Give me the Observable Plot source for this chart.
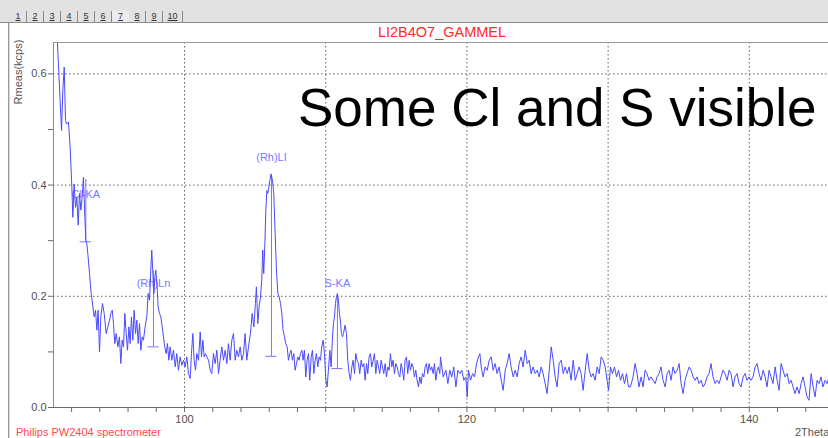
<!DOCTYPE html>
<html>
<head>
<meta charset="utf-8">
<script src="https://cdn.jsdelivr.net/npm/d3@7"></script>
<script src="https://cdn.jsdelivr.net/npm/@observablehq/plot@0.6"></script>
<style>
  html, body { margin: 0; padding: 0; background: #fff; }
  #wrap { position: relative; width: 828px; height: 438px; overflow: hidden; background: #fff;
          font-family: "Liberation Sans", Arial, sans-serif; }
  #chart { position: absolute; left: 0; top: 0; }
  #tabbar { position: absolute; left: 0; top: 0; width: 828px; height: 22px; background: #e2e2e2;
            border-bottom: 1px solid #8c8c8c; }
  #tabs { position: absolute; left: 10px; top: 11px; height: 11px; display: flex; }
  .tab { font-size: 9px; color: #333; text-decoration: underline; width: 17px; text-align: center;
         line-height: 11px; border-right: 1px solid #888; box-sizing: border-box; }
  .tab.active { border-right: none; background: #ececec; }
  #title { position: absolute; left: 342px; top: 25px; width: 200px; text-align: center;
           font-size: 14.5px; line-height: 14.5px; color: #ff2a2a; white-space: nowrap; }
  #ylabel { position: absolute; left: 18px; top: 72px; transform: translate(-50%, -50%) rotate(-90deg);
            font-size: 11px; color: #555; white-space: nowrap; }
  #foot { position: absolute; left: 16px; top: 427px; font-size: 11px; line-height: 11px; color: #ff4a4a; white-space: nowrap; }
  #xlabel { position: absolute; left: 795px; top: 427px; font-size: 11px; line-height: 11px; color: #555; white-space: nowrap; }
  #big { position: absolute; left: 298px; top: 81px; font-size: 53px; line-height: 53px; color: #000; white-space: nowrap; }
  #border { position: absolute; left: 8px; top: 23px; width: 1px; height: 415px; background: #9a9a9a;
            box-shadow: 1px 0 0 #d8d8d8; }
</style>
</head>
<body>
<div id="wrap">
  <div id="chart"></div>
  <div id="tabbar"><div id="tabs"></div></div>
  <div id="border"></div>
  <div id="title">LI2B4O7_GAMMEL</div>
  <div id="ylabel">Rmeas(kcps)</div>
  <div id="foot">Philips PW2404 spectrometer</div>
  <div id="xlabel">2Theta</div>
  <div id="big">Some Cl and S visible</div>
</div>
<script>
// ---- tick / label arrays ----
const tabLabels = ["1","2","3","4","5","6","7","8","9","10"];
const activeTab = "7";
const xDomain = [90.72, 145.61];
const yDomain = [0, 0.6564];
const xTicks = [92,94,96,98,100,102,104,106,108,110,112,114,116,118,120,122,124,126,128,130,132,134,136,138,140,142,144];
const xLabelled = [100, 120, 140];
const xGrid = [100, 110, 120, 130, 140];
const yTicks = [0, 0.1, 0.2, 0.3, 0.4, 0.5, 0.6];
const yLabelled = [0, 0.2, 0.4, 0.6];
const yGrid = [0.2, 0.4, 0.6];

// ---- peak markers ----
const peakLabels = ["Cl-KA", "(Rh)Ln", "(Rh)LI", "S-KA"];
const peakTheta  = [93.01, 97.80, 106.16, 110.83];
const peakTop    = [0.410, 0.245, 0.417, 0.202];
const peakBase   = [0.298, 0.109, 0.092, 0.070];
const peakLabelY = [0.383, 0.223, 0.450, 0.223];

// ---- spectrum: [2theta, Rmeas (kcps)] ----
const spectrumA = [
[91.00,0.655],[91.19,0.552],[91.29,0.498],[91.38,0.570],[91.48,0.612],[91.57,0.516],[91.66,0.510],[91.78,0.513],
[91.90,0.468],[92.02,0.396],[92.09,0.342],[92.18,0.402],[92.28,0.360],[92.37,0.378],[92.47,0.328],[92.56,0.385],
[92.66,0.355],[92.75,0.378],[92.84,0.414],[92.94,0.342],[93.01,0.300],[93.08,0.295],[93.15,0.277],[93.27,0.241],
[93.39,0.205],[93.51,0.181],[93.60,0.163],[93.70,0.175],[93.79,0.139],[93.88,0.175],[93.98,0.100],[94.07,0.163],
[94.19,0.187],[94.31,0.169],[94.45,0.133],[94.57,0.145],[94.69,0.157],[94.78,0.169],[94.88,0.175],[94.97,0.151],
[95.06,0.115],[95.16,0.133],[95.28,0.109],[95.39,0.127],[95.49,0.079],[95.58,0.121],[95.68,0.109],[95.77,0.169],
[95.87,0.133],[95.96,0.103],[96.06,0.145],[96.15,0.115],[96.24,0.163],[96.34,0.121],[96.43,0.175],[96.53,0.133],
[96.62,0.157],[96.72,0.115],[96.81,0.151],[96.91,0.103],[97.00,0.127],[97.09,0.121],[97.21,0.145],[97.33,0.163],
[97.42,0.205],[97.52,0.193],[97.61,0.247],[97.68,0.283],[97.76,0.241],[97.83,0.205],[97.90,0.235],[97.97,0.247],
[98.06,0.217],[98.13,0.181],[98.23,0.169],[98.32,0.163],[98.42,0.145],[98.51,0.127],[98.60,0.109],[98.70,0.097],
[98.79,0.115],[98.89,0.085],[98.98,0.109],[99.10,0.085],[99.22,0.103],[99.34,0.073],[99.45,0.097],[99.57,0.067],
[99.69,0.091],[99.81,0.076],[99.93,0.085],[100.05,0.073],[100.16,0.091],[100.28,0.061],[100.40,0.052],[100.49,0.097],
[100.59,0.133],[100.68,0.085],[100.78,0.067],[100.87,0.097],[100.99,0.085],[101.11,0.136],[101.20,0.091],[101.30,0.121],
[101.39,0.091],[101.48,0.097],[101.58,0.091],[101.70,0.085],[101.82,0.067],[101.93,0.061],[102.05,0.097],[102.17,0.079],
[102.29,0.103],[102.41,0.061],[102.52,0.085],[102.64,0.109],[102.76,0.085],[102.88,0.103],[103.00,0.079],[103.11,0.115],
[103.23,0.085],[103.35,0.121],[103.47,0.133],[103.59,0.085],[103.70,0.103],[103.82,0.091],[103.94,0.109],[104.06,0.085],
[104.18,0.097],[104.29,0.133],[104.41,0.085],[104.53,0.109]
];
const spectrumB = [
[104.67,0.133],[104.79,0.169],[104.91,0.145],[105.02,0.187],[105.09,0.217],[105.19,0.151],[105.28,0.181],[105.38,0.199],
[105.47,0.229],[105.54,0.283],[105.61,0.241],[105.69,0.295],[105.76,0.355],[105.83,0.390],[105.90,0.385],[105.97,0.396],
[106.04,0.408],[106.13,0.420],[106.23,0.408],[106.32,0.385],[106.42,0.313],[106.51,0.247],[106.61,0.205],[106.70,0.199],
[106.80,0.187],[106.89,0.169],[106.98,0.139],[107.08,0.127],[107.17,0.115],[107.27,0.109],[107.36,0.085],[107.46,0.097],
[107.55,0.103],[107.64,0.085],[107.74,0.097],[107.83,0.067],[107.93,0.079],[108.02,0.091],[108.12,0.085],[108.21,0.097],
[108.31,0.103],[108.40,0.085],[108.49,0.103],[108.59,0.055],[108.68,0.085],[108.78,0.097],[108.87,0.049],[108.97,0.091],
[109.06,0.103],[109.16,0.061],[109.25,0.085],[109.34,0.097],[109.44,0.073],[109.53,0.091],[109.63,0.085],[109.72,0.109],
[109.82,0.121],[109.91,0.097],[110.01,0.049],[110.10,0.037],[110.19,0.067],[110.29,0.103],[110.38,0.073],[110.48,0.127],
[110.55,0.151],[110.62,0.163],[110.69,0.187],[110.76,0.199],[110.83,0.205],[110.90,0.193],[110.97,0.169],[111.04,0.157],
[111.11,0.133],[111.19,0.127],[111.26,0.133],[111.37,0.148],[111.47,0.133],[111.56,0.085],[111.66,0.061],[111.75,0.049],
[111.85,0.073],[111.94,0.085],[112.04,0.061],[112.13,0.097],[112.22,0.085],[112.32,0.079],[112.41,0.061],[112.51,0.085],
[112.60,0.073],[112.70,0.079],[112.79,0.049],[112.89,0.079],[112.98,0.061],[113.07,0.091],[113.17,0.097],[113.26,0.073],
[113.36,0.085],[113.45,0.097],[113.55,0.061],[113.64,0.085],[113.74,0.073],[113.83,0.061],[113.92,0.085],[114.02,0.073],
[114.11,0.061],[114.21,0.079],[114.30,0.055],[114.40,0.073],[114.49,0.067],[114.58,0.097],[114.68,0.073],[114.77,0.085],
[114.87,0.061],[114.96,0.079],[115.06,0.073],[115.15,0.061],[115.25,0.055],[115.34,0.079],[115.43,0.067],[115.53,0.049],
[115.62,0.085],[115.72,0.091],[115.81,0.061],[115.91,0.085],[116.00,0.067],[116.10,0.079],[116.19,0.073],[116.28,0.055],
[116.38,0.067],[116.47,0.049],[116.57,0.037],[116.66,0.055],[116.76,0.043],[116.85,0.061],[116.95,0.055],[117.04,0.073],
[117.13,0.079],[117.23,0.061],[117.32,0.079],[117.42,0.067],[117.51,0.073],[117.61,0.061],[117.70,0.079],[117.80,0.049],
[117.89,0.067],[117.98,0.073],[118.08,0.061]
];
const spectrumC = [
[118.13,0.091],[118.32,0.055],[118.51,0.067],[118.65,0.043],[118.79,0.067],[118.93,0.055],[119.07,0.073],[119.22,0.037],
[119.36,0.067],[119.50,0.061],[119.64,0.067],[119.78,0.049],[119.92,0.055],[120.02,0.019],[120.11,0.067],[120.26,0.049],
[120.40,0.061],[120.54,0.055],[120.68,0.079],[120.82,0.091],[120.92,0.097],[121.01,0.073],[121.15,0.055],[121.29,0.073],
[121.44,0.067],[121.58,0.085],[121.72,0.091],[121.86,0.067],[122.00,0.079],[122.14,0.061],[122.28,0.073],[122.43,0.049],
[122.57,0.031],[122.71,0.067],[122.85,0.079],[122.99,0.097],[123.13,0.073],[123.28,0.055],[123.42,0.067],[123.56,0.055],
[123.70,0.079],[123.84,0.091],[123.98,0.073],[124.13,0.103],[124.27,0.079],[124.41,0.085],[124.55,0.061],[124.69,0.073],
[124.83,0.061],[124.98,0.067],[125.12,0.055],[125.26,0.073],[125.40,0.061],[125.54,0.043],[125.68,0.025],[125.83,0.067],
[125.97,0.109],[126.11,0.085],[126.25,0.055],[126.39,0.037],[126.53,0.079],[126.68,0.085],[126.82,0.061],[126.96,0.073],
[127.10,0.061],[127.24,0.073],[127.38,0.049],[127.53,0.085],[127.67,0.049],[127.81,0.061],[127.95,0.073],[128.09,0.061],
[128.23,0.031],[128.38,0.067],[128.52,0.097],[128.66,0.067],[128.80,0.055],[128.94,0.061],[129.08,0.049],[129.23,0.073],
[129.37,0.061],[129.51,0.091],[129.65,0.085],[129.79,0.073],[129.93,0.049],[130.03,0.031],[130.17,0.073],[130.31,0.061],
[130.45,0.073],[130.60,0.055],[130.74,0.067],[130.88,0.049],[131.02,0.061],[131.16,0.043],[131.30,0.061],[131.45,0.037]
];
const spectrumD = [
[131.58,0.037],[131.77,0.055],[131.91,0.079],[132.05,0.061],[132.19,0.037],[132.34,0.055],[132.48,0.037],[132.62,0.067],
[132.76,0.061],[132.90,0.049],[133.04,0.055],[133.19,0.049],[133.33,0.043],[133.47,0.055],[133.61,0.061],[133.75,0.073],
[133.89,0.049],[134.04,0.037],[134.18,0.061],[134.32,0.067],[134.46,0.049],[134.60,0.073],[134.74,0.061],[134.89,0.067],
[135.03,0.079],[135.17,0.043],[135.31,0.025],[135.45,0.049],[135.59,0.061],[135.74,0.073],[135.88,0.067],[136.02,0.055],
[136.16,0.049],[136.30,0.055],[136.44,0.043],[136.59,0.049],[136.73,0.037],[136.87,0.043],[137.01,0.055],[137.15,0.061],
[137.29,0.079],[137.43,0.055],[137.58,0.043],[137.72,0.049],[137.86,0.043],[138.00,0.055],[138.14,0.067],[138.28,0.061],
[138.43,0.049],[138.57,0.067],[138.71,0.061],[138.85,0.037],[138.99,0.055],[139.13,0.061],[139.28,0.043],[139.42,0.037],
[139.56,0.055],[139.70,0.061],[139.84,0.049],[139.98,0.055],[140.13,0.049],[140.27,0.055],[140.41,0.073],[140.55,0.079],
[140.69,0.061],[140.83,0.049],[140.98,0.067],[141.12,0.055],[141.26,0.037],[141.40,0.067],[141.54,0.055],[141.68,0.043],
[141.83,0.073],[141.97,0.049],[142.11,0.031],[142.25,0.079],[142.39,0.067],[142.53,0.055],[142.68,0.061],[142.82,0.043],
[142.96,0.049],[143.10,0.037],[143.24,0.025],[143.38,0.037],[143.53,0.025],[143.67,0.043],[143.81,0.055],[143.95,0.037],
[144.09,0.019],[144.23,0.013],[144.38,0.061],[144.52,0.037],[144.66,0.019],[144.80,0.049],[144.94,0.043],[145.08,0.055],
[145.22,0.037],[145.37,0.049],[145.51,0.043],[145.65,0.055]
];

// ---- build tables ----
const spectrum = [...spectrumA, ...spectrumB, ...spectrumC, ...spectrumD].map(([t, r]) => ({theta: t, rmeas: r}));
const peaks = peakLabels.map((label, i) => ({
  label, theta: peakTheta[i], top: peakTop[i], base: peakBase[i], labelY: peakLabelY[i]
}));

// tabs
const tabsEl = document.getElementById("tabs");
tabLabels.forEach(t => {
  const s = document.createElement("span");
  s.className = "tab" + (t === activeTab ? " active" : "");
  if (t === "10") s.style.width = "20px";
  s.textContent = t;
  tabsEl.appendChild(s);
});

const gridStyle = {stroke: "#606060", strokeOpacity: 1, strokeDasharray: "1.5,2.5", strokeWidth: 1};
const axisColor = "#6a6a6a";
const peakColor = "#7878ff";

const chart = Plot.plot({
  width: 828,
  height: 438,
  marginLeft: 53,
  marginRight: 0,
  marginTop: 42,
  marginBottom: 31,
  x: {domain: xDomain},
  y: {domain: yDomain},
  style: {fontFamily: "'Liberation Sans', Arial, sans-serif", fontSize: "11px", color: "#505050", background: "transparent"},
  marks: [
    Plot.gridX(xGrid, gridStyle),
    Plot.gridY(yGrid, gridStyle),
    Plot.ruleY([yDomain[1]], {stroke: "#9a9a9a"}),
    Plot.ruleX([xDomain[0]], {stroke: "#8a8a8a"}),
    Plot.axisY({ticks: yTicks, tickSize: 5, tickPadding: 2, label: null, stroke: axisColor,
      tickFormat: d => yLabelled.some(v => Math.abs(v - d) < 1e-9) ? d3.format(".1f")(d) : ""}),
    Plot.axisX({ticks: xTicks, tickSize: 5, tickPadding: 3, label: null, stroke: axisColor,
      tickFormat: d => xLabelled.includes(d) ? String(d) : ""}),
    Plot.ruleY([0], {stroke: axisColor}),
    Plot.text(peaks, {x: "theta", y: "labelY", text: "label", fill: peakColor, fontSize: 11}),
    Plot.ruleX(peaks, {x: "theta", y1: "base", y2: "top", stroke: peakColor, strokeWidth: 1}),
    Plot.ruleY(peaks, {y: "base", x1: d => d.theta - 0.4, x2: d => d.theta + 0.4, stroke: peakColor, strokeWidth: 1}),
    Plot.line(spectrum, {x: "theta", y: "rmeas", stroke: "#4a4aff", strokeWidth: 1, clip: true})
  ]
});
document.getElementById("chart").appendChild(chart);
</script>
</body>
</html>
